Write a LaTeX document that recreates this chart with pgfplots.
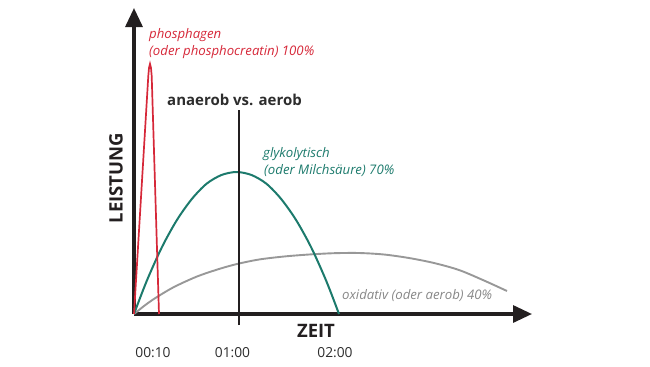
\documentclass[border=0pt]{standalone}
\usepackage{pgfplots}
\pgfplotsset{compat=1.18}
\usepackage{fontspec}
\setmainfont{Open Sans}
\usetikzlibrary{arrows.meta}
\definecolor{axiscol}{RGB}{35,31,32}
\definecolor{pred}{RGB}{214,40,57}
\definecolor{pteal}{RGB}{28,122,108}
\definecolor{pgray}{RGB}{152,152,152}
\definecolor{tgray}{RGB}{135,135,135}
\definecolor{dtext}{RGB}{45,45,45}
\begin{document}
\begin{tikzpicture}
\begin{axis}[
  x=1bp, y=1bp,
  xmin=0, xmax=398, ymin=0, ymax=306,
  axis lines=left,
  clip=false,
  axis line style={line width=3.2bp, draw=axiscol},
  every outer x axis line/.append style={-{Triangle[width=17bp,length=19bp]}},
  every outer y axis line/.append style={-{Triangle[width=17bp,length=19bp]}},
  ytick=\empty,
  xtick={19,98.5,201},
  xticklabels={00:10,01:00,02:00},
  major tick length=0pt,
  /pgf/number format/assume math mode=true,
  xticklabel style={anchor=base, yshift=-43bp, font=\fontsize{13.8bp}{15bp}\selectfont, text=dtext},
]
% invisible frame fixing the picture size (650 x 366)
\path[draw=none] (axis cs:-134,-52) rectangle (axis cs:516,314);

% oxidativ (gray)
\addplot[pgray, line width=1.9bp, smooth] coordinates {
 (0,0) (12,9.5) (23,17) (40,27) (63,37.5) (85,45) (103,50) (125,54.5)
 (150,57.5) (175,59.5) (200,60.8) (225,61) (250,59.5) (275,56) (300,51)
 (325,44) (350,33.5) (373,23)
};

% glykolytisch (teal)
\addplot[pteal, line width=2bp, smooth] coordinates {
 (0,0) (12.5,32.5) (27.5,66) (42.5,93.3) (57.5,114.6) (72.5,130.2) (87.5,139)
 (102.5,142) (117.5,139) (132.5,130.2) (147.5,114.6) (162.5,93.3) (177.5,66)
 (192.5,32.5) (205,0)
};

% phosphagen (red)
\addplot[pred, line width=1.7bp] coordinates {
 (0,0) (14.3,238) (15,246) (16,250) (17,246) (17.7,238) (25,0)
};

% anaerob vs. aerob line
\addplot[axiscol, line width=1.8bp] coordinates {(105,-11) (105,204)};

% texts
\node[anchor=base west, text=pred, inner sep=0pt, font=\fontsize{13.2bp}{15bp}\selectfont\itshape] at (axis cs:15,275.5) {phosphagen};
\node[anchor=base west, text=pred, inner sep=0pt, font=\fontsize{13.2bp}{15bp}\selectfont\itshape] at (axis cs:15,258.5) {(oder phosphocreatin) 100\%};
\node[anchor=base west, text=dtext, inner sep=0pt, font=\fontsize{15bp}{18bp}\selectfont\bfseries] at (axis cs:33,209) {anaerob vs. aerob};
\node[anchor=base west, text=pteal, inner sep=0pt, font=\fontsize{13.2bp}{15bp}\selectfont\itshape] at (axis cs:129,156.5) {glykolytisch};
\node[anchor=base west, text=pteal, inner sep=0pt, font=\fontsize{13.2bp}{15bp}\selectfont\itshape] at (axis cs:130,140) {(oder Milchsäure) 70\%};
\node[anchor=base west, text=tgray, inner sep=0pt, font=\fontsize{13.2bp}{15bp}\selectfont\itshape] at (axis cs:208,14.5) {oxidativ (oder aerob) 40\%};
\node[anchor=center, text=axiscol, inner sep=0pt, font=\fontsize{18.5bp}{20bp}\selectfont\bfseries] at (axis cs:182,-17) {ZEIT};
\node[anchor=center, rotate=90, text=axiscol, inner sep=0pt, font=\fontsize{18.5bp}{20bp}\selectfont\bfseries] at (axis cs:-18,136) {LEISTUNG};
\end{axis}
\end{tikzpicture}
\end{document}
